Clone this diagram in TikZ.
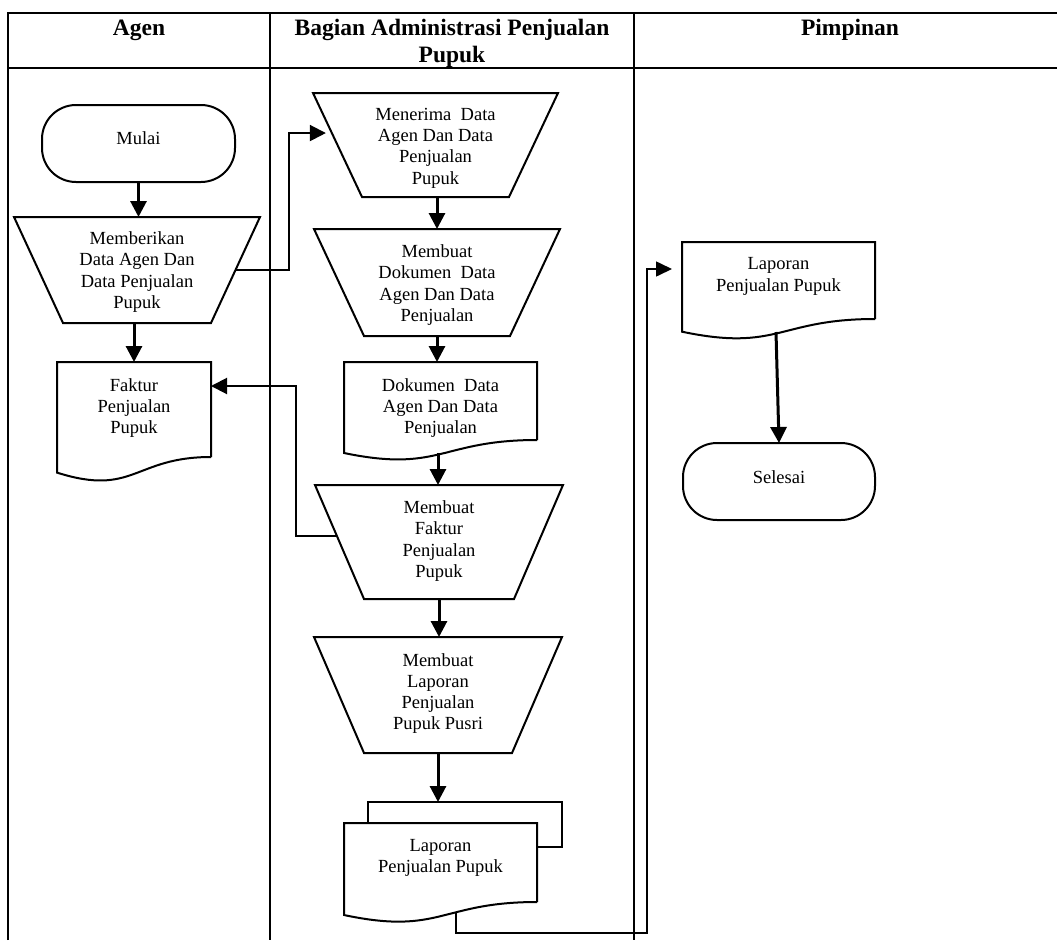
\documentclass[tikz,border=0pt]{standalone}
\usepackage{fontspec}
\setmainfont{Liberation Serif}
\usetikzlibrary{arrows.meta,calc}
\newcommand\trapz[2]{\draw[shp] (#1.north west) -- (#1.north east) -- ([xshift=-#2pt]#1.south east) -- ([xshift=#2pt]#1.south west) -- cycle;}
\newcommand\docz[3]{\draw[shp] (#1.south east) -- (#1.north east) -- (#1.north west) -- ([yshift=-#2pt]#1.south west) .. controls ([yshift=-#3pt]#1.south) and (#1.south) .. (#1.south east);}
\begin{document}
\begin{tikzpicture}[x=1pt,y=-1pt,
  tbl/.style={line width=2.8pt},
  shp/.style={draw, line width=2pt, line join=miter},
  box/.style={inner sep=0pt, outer sep=0pt},
  txt/.style={align=center, font=\fontsize{18.5}{21.3}\selectfont, inner sep=0pt},
  hdr/.style={align=center, font=\fontsize{23.5}{27}\selectfont\bfseries, inner sep=0pt},
  arr/.style={line width=3pt, -{Triangle[length=16pt,width=16pt]}},
  conn/.style={line width=2pt, -{Triangle[length=16pt,width=16pt]}},
  thinconn/.style={line width=1.6pt, -{Triangle[length=16pt,width=15pt]}},
]
\useasboundingbox (0,0) rectangle (1057,940);
% table
\draw[tbl] (8,940) -- (8,13) -- (1057,13);
\draw[tbl] (8,68) -- (1057,68);
\draw[tbl] (270,13) -- (270,940);
\draw[tbl] (634,13) -- (634,940);
\node[hdr] (hagen) at (139,30) {Agen};
\node[hdr] (hbag) at (452,43.5) {Bagian Administrasi Penjualan\\Pupuk};
\node[hdr] (hpim) at (850,30) {Pimpinan};

% Agen lane
\node[box, minimum width=193pt, minimum height=77pt] (mulai) at (138.5,143.5) {};
\draw[shp, rounded corners=34pt] (mulai.north west) rectangle (mulai.south east);
\node[txt] (tmulai) at (138.5,138) {Mulai};

\node[box, minimum width=246pt, minimum height=106pt] (memb) at (137,270) {};
\trapz{memb}{49}
\node[txt] (tmemb) at (137,272) {Memberikan\\Data Agen Dan\\Data Penjualan\\Pupuk};

\node[box, minimum width=154pt, minimum height=95pt] (faktur) at (134,409.5) {};
\docz{faktur}{15.6}{40}
\node[txt] (tfaktur) at (134,408) {Faktur\\Penjualan\\Pupuk};

% Bagian Administrasi lane
\node[box, minimum width=245pt, minimum height=104pt] (menerima) at (435.5,145) {};
\trapz{menerima}{49}
\node[txt] (tmenerima) at (435.5,148) {Menerima\ \ Data\\Agen Dan Data\\Penjualan\\Pupuk};

\node[box, minimum width=246pt, minimum height=107pt] (mdok) at (437,282.5) {};
\trapz{mdok}{50}
\node[txt] (tmdok) at (437,285) {Membuat\\Dokumen\ \ Data\\Agen Dan Data\\Penjualan};

\node[box, minimum width=193pt, minimum height=78pt] (dok) at (440.5,401) {};
\docz{dok}{13}{33}
\node[txt] (tdok) at (440.5,408) {Dokumen\ \ Data\\Agen Dan Data\\Penjualan};

\node[box, minimum width=248pt, minimum height=114pt] (mfak) at (439,542) {};
\trapz{mfak}{49}
\node[txt] (tmfak) at (439,541) {Membuat\\Faktur\\Penjualan\\Pupuk};

\node[box, minimum width=248pt, minimum height=116pt] (mlap) at (438,695) {};
\trapz{mlap}{50}
\node[txt] (tmlap) at (438,693.5) {Membuat\\Laporan\\Penjualan\\Pupuk Pusri};

\node[box, minimum width=194pt, minimum height=45pt] (back) at (465,824.5) {};
\node[box, minimum width=193pt, minimum height=79pt] (lap) at (440.5,862.5) {};
\draw[shp, line width=1.6pt] (lap.north west -| back.west) -- (back.north west) -- (back.north east) -- (back.south east) -- (back.south east -| lap.east);
\docz{lap}{13}{33.5}
\node[txt] (tlap) at (440.5,858) {Laporan\\Penjualan Pupuk};

% Pimpinan lane
\node[box, minimum width=193pt, minimum height=77pt] (plap) at (778.5,280.5) {};
\docz{plap}{12.7}{33}
\node[txt] (tplap) at (778.5,276.5) {Laporan\\Penjualan Pupuk};

\node[box, minimum width=192pt, minimum height=77pt] (selesai) at (779,481.5) {};
\draw[shp, rounded corners=34pt] (selesai.north west) rectangle (selesai.south east);
\node[txt] (tselesai) at (779,477) {Selesai};

% connectors
\draw[arr] (mulai.south) -- (mulai.south |- memb.north);
\draw[arr] (faktur.north |- memb.south) -- (faktur.north);

\coordinate (bend1) at (289,0);
\coordinate (s1) at ($(memb.north east)!0.5!([xshift=-49pt]memb.south east)$);
\coordinate (e1) at ($(menerima.north west)!0.385!([xshift=49pt]menerima.south west) + (-6,0)$);
\draw[conn] (s1) -- (s1 -| bend1) -- (bend1 |- e1) -- (e1);

\draw[arr] (mdok.north |- menerima.south) -- (mdok.north);
\draw[arr] (mdok.south) -- (mdok.south |- dok.north);
\coordinate (s4) at ($(dok.south)+(-2.5,13)$);
\draw[arr] (s4) -- (s4 |- mfak.north);

\coordinate (bend2) at (296,386);
\coordinate (s2) at ($(mfak.north west)!0.447!([xshift=49pt]mfak.south west)$);
\draw[conn] (s2) -- (s2 -| bend2) -- (bend2) -- (bend2 -| faktur.east);

\draw[arr] (mfak.south) -- (mfak.south |- mlap.north);
\draw[arr] (mlap.south) -- (mlap.south |- back.north);

\coordinate (bend3) at (647,933);
\coordinate (s3) at ($(lap.south)+(15.5,10)$);
\coordinate (e3) at ($(plap.north west)+(-10,27)$);
\draw[thinconn] (s3) -- (s3 |- bend3) -- (bend3) -- (bend3 |- e3) -- (e3);

\coordinate (s5) at ($(plap.south)+(-2.5,13)$);
\draw[arr] (s5) -- (selesai.north);
\end{tikzpicture}
\end{document}
